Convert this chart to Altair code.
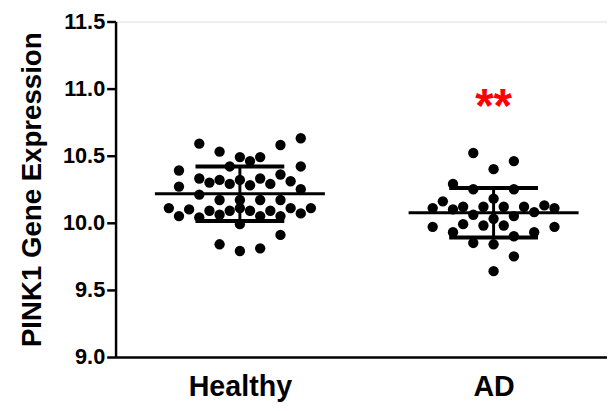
import altair as alt
import pandas as pd

# ---- data ----
groups = ["Healthy", "AD"]
group_pos = [1, 2]

healthy_values = [10.59, 10.53, 10.49, 10.46, 10.49, 10.58, 10.63, 10.42, 10.39, 10.42,
                  10.36, 10.33, 10.30, 10.32, 10.29, 10.32, 10.28, 10.33, 10.29, 10.31,
                  10.27, 10.25, 10.21, 10.17, 10.17, 10.17, 10.17, 10.11, 10.10, 10.05,
                  10.09, 10.04, 10.09, 10.06, 10.11, 10.09, 10.05, 10.09, 10.05, 10.11,
                  10.07, 10.11, 9.99, 9.91, 9.84, 9.79, 9.81]
healthy_cols = [-4, -2, 0, 1, 2, 4, 6, -1, -6, 6,
                4, -4, -3, -2, -1, 0, 1, 2, 3, 5,
                -6, 6, -4, -2, 0, 2, 4, -7, -5, -6,
                -3, -4, -1, -2, 0, 1, 2, 3, 4, 5,
                6, 7, 0, 4, -2, 0, 2]

ad_values = [10.52, 10.46, 10.40, 10.29, 10.25, 10.25, 10.18, 10.16, 10.11, 10.10,
             10.12, 10.12, 10.12, 10.12, 10.13, 10.11, 10.08, 10.06, 10.05, 10.03,
             9.99, 9.98, 9.98, 9.97, 9.97, 9.93, 9.93, 9.90, 9.85, 9.84,
             9.75, 9.64]
ad_cols = [-2, 2, 0, -4, -2, 2, 0, -5, -6, -4,
           -3, -1, 1, 3, 5, 6, 4, -2, 2, 0,
           -3, -1, 1, -6, 6, -4, 4, 2, -2, 0,
           2, 0]

means = [10.217, 10.075]
sds = [0.203, 0.185]

annot_text = ["**"]
annot_pos = [2]
annot_y = [10.75]

y_ticks = [9.0, 9.5, 10.0, 10.5, 11.0, 11.5]

# ---- tables ----
col_step = 0.04
pts = pd.DataFrame({
    "group": ["Healthy"] * len(healthy_values) + ["AD"] * len(ad_values),
    "value": healthy_values + ad_values,
    "col": healthy_cols + ad_cols,
})
pos_map = dict(zip(groups, group_pos))
pts["x"] = pts["group"].map(pos_map) + pts["col"] * col_step

summ = pd.DataFrame({"group": groups, "pos": group_pos, "mean": means, "sd": sds})
summ["lo"] = summ["mean"] - summ["sd"]
summ["hi"] = summ["mean"] + summ["sd"]
summ["mx1"] = summ["pos"] - 0.335
summ["mx2"] = summ["pos"] + 0.335
summ["cx1"] = summ["pos"] - 0.175
summ["cx2"] = summ["pos"] + 0.175

ann = pd.DataFrame({"text": annot_text, "pos": annot_pos, "y": annot_y})

FONT = "Liberation Sans"
xscale = alt.Scale(domain=[0.51, 2.447], nice=False, zero=False)
yscale = alt.Scale(domain=[9.0, 11.5], nice=False, zero=False)

xaxis = alt.Axis(values=group_pos, title=None, ticks=False, grid=False,
                 labelExpr="datum.value == 1 ? 'Healthy' : 'AD'",
                 labelFont=FONT, labelFontWeight="bold", labelFontSize=29,
                 labelColor="black", labelPadding=16,
                 domainColor="black", domainWidth=2.5)
yaxis = alt.Axis(values=y_ticks, format=".1f", title="PINK1 Gene Expression",
                 grid=False, tickSize=9, tickWidth=2.5, tickColor="black",
                 domainColor="black", domainWidth=2.5,
                 labelFont=FONT, labelFontWeight="bold", labelFontSize=22,
                 labelColor="black", labelPadding=2,
                 titleFont=FONT, titleFontWeight="bold", titleFontSize=28,
                 titleColor="black", titlePadding=16)

dots = alt.Chart(pts).mark_circle(size=110, color="black", opacity=1).encode(
    x=alt.X("x:Q", scale=xscale, axis=xaxis),
    y=alt.Y("value:Q", scale=yscale, axis=yaxis),
)

mean_line = alt.Chart(summ).mark_rule(color="black", strokeWidth=3).encode(
    x=alt.X("mx1:Q", scale=xscale), x2="mx2:Q", y=alt.Y("mean:Q", scale=yscale)
)
sd_vert = alt.Chart(summ).mark_rule(color="black", strokeWidth=3).encode(
    x=alt.X("pos:Q", scale=xscale), y=alt.Y("lo:Q", scale=yscale), y2="hi:Q"
)
cap_hi = alt.Chart(summ).mark_rule(color="black", strokeWidth=4).encode(
    x=alt.X("cx1:Q", scale=xscale), x2="cx2:Q", y=alt.Y("hi:Q", scale=yscale)
)
cap_lo = alt.Chart(summ).mark_rule(color="black", strokeWidth=4).encode(
    x=alt.X("cx1:Q", scale=xscale), x2="cx2:Q", y=alt.Y("lo:Q", scale=yscale)
)
stars = alt.Chart(ann).mark_text(color="red", font=FONT, fontWeight="bold",
                                 fontSize=48, baseline="alphabetic", align="center").encode(
    x=alt.X("pos:Q", scale=xscale), y=alt.Y("y:Q", scale=yscale), text="text:N"
)

chart = alt.layer(dots, mean_line, sd_vert, cap_hi, cap_lo, stars).properties(
    width=498, height=340,
    autosize=alt.AutoSizeParams(type="none"),
    padding={"left": 109, "top": 11, "right": 0, "bottom": 52},
).configure_view(stroke=None).configure(background="white")

chart.save("out.html", embed_options={"renderer": "svg", "actions": False})
